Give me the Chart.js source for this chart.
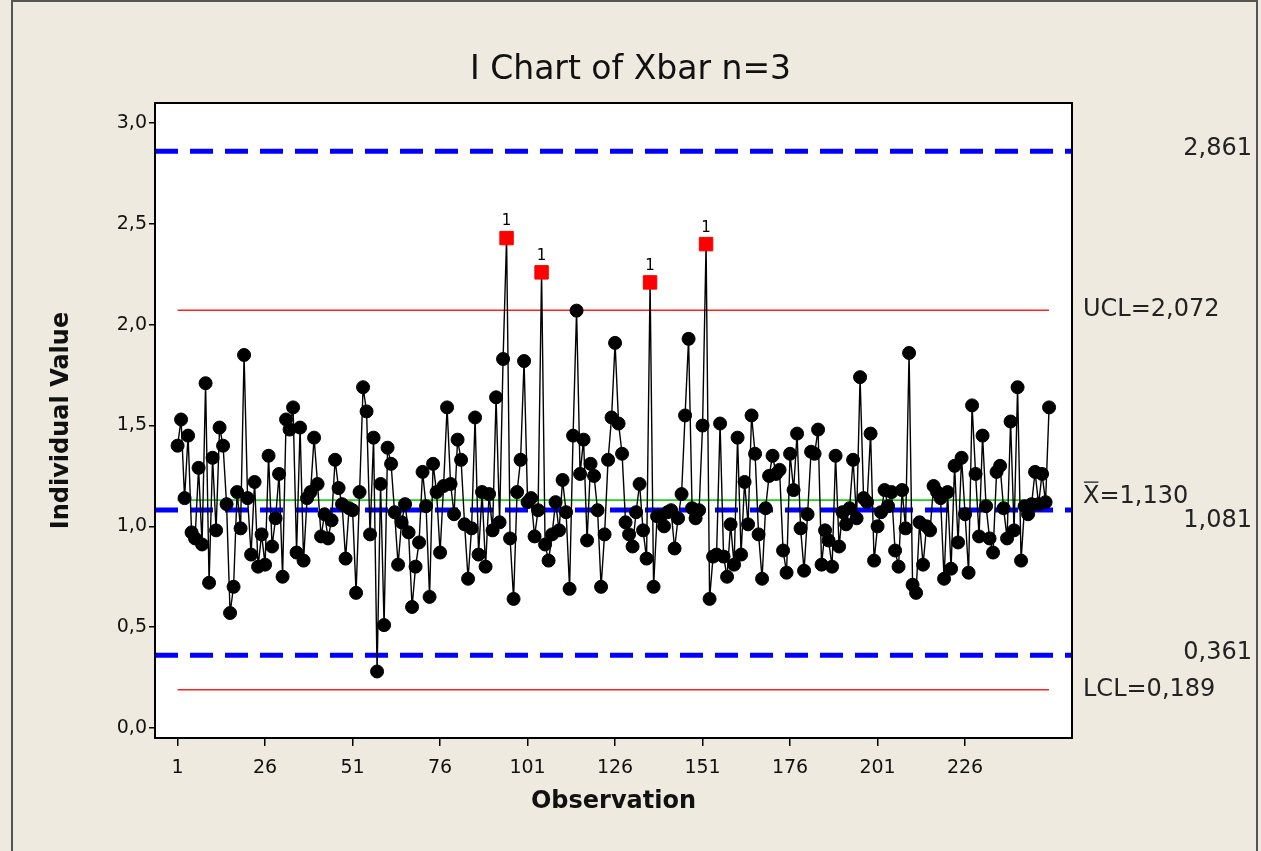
<!DOCTYPE html>
<html>
<head>
<meta charset="utf-8">
<script src="https://cdn.jsdelivr.net/npm/chart.js@4.4.0/dist/chart.umd.min.js"></script>
<style>
  html, body { margin: 0; padding: 0; background: #eeeae0; }
  #wrap { width: 1261px; height: 851px; }
</style>
</head>
<body>
<div id="wrap"><canvas id="ichart" width="1261" height="851"></canvas></div>
<script>
// Xbar values (n=3), one per subgroup
const xbarValues = [
  1.40, 1.53, 1.14, 1.45, 0.97, 0.94, 1.29, 0.91, 1.71, 0.72,
  1.34, 0.98, 1.49, 1.40, 1.11, 0.57, 0.70, 1.17, 0.99, 1.85,
  1.14, 0.86, 1.22, 0.80, 0.96, 0.81, 1.35, 0.90, 1.04, 1.26,
  0.75, 1.53, 1.48, 1.59, 0.87, 1.49, 0.83, 1.14, 1.17, 1.44,
  1.21, 0.95, 1.06, 0.94, 1.03, 1.33, 1.19, 1.11, 0.84, 1.09,
  1.08, 0.67, 1.17, 1.69, 1.57, 0.96, 1.44, 0.28, 1.21, 0.51,
  1.39, 1.31, 1.07, 0.81, 1.02, 1.11, 0.97, 0.60, 0.80, 0.92,
  1.27, 1.10, 0.65, 1.31, 1.17, 0.87, 1.20, 1.59, 1.21, 1.06,
  1.43, 1.33, 1.01, 0.74, 0.99, 1.54, 0.86, 1.17, 0.80, 1.16,
  0.98, 1.64, 1.02, 1.83, 2.43, 0.94, 0.64, 1.17, 1.33, 1.82,
  1.12, 1.14, 0.95, 1.08, 2.26, 0.91, 0.83, 0.96, 1.12, 0.98,
  1.23, 1.07, 0.69, 1.45, 2.07, 1.26, 1.43, 0.93, 1.31, 1.25,
  1.08, 0.70, 0.96, 1.33, 1.54, 1.91, 1.51, 1.36, 1.02, 0.96,
  0.90, 1.07, 1.21, 0.98, 0.84, 2.21, 0.70, 1.05, 1.05, 1.00,
  1.07, 1.08, 0.89, 1.04, 1.16, 1.55, 1.93, 1.09, 1.04, 1.08,
  1.50, 2.40, 0.64, 0.85, 0.86, 1.51, 0.85, 0.75, 1.01, 0.81,
  1.44, 0.86, 1.22, 1.01, 1.55, 1.36, 0.96, 0.74, 1.09, 1.25,
  1.35, 1.26, 1.28, 0.88, 0.77, 1.36, 1.18, 1.46, 0.99, 0.78,
  1.06, 1.37, 1.36, 1.48, 0.81, 0.98, 0.93, 0.80, 1.35, 0.90,
  1.07, 1.01, 1.09, 1.33, 1.04, 1.74, 1.14, 1.12, 1.46, 0.83,
  1.00, 1.07, 1.18, 1.10, 1.17, 0.88, 0.80, 1.18, 0.99, 1.86,
  0.71, 0.67, 1.02, 0.81, 1.00, 0.98, 1.20, 1.17, 1.14, 0.74,
  1.17, 0.79, 1.30, 0.92, 1.34, 1.06, 0.77, 1.60, 1.26, 0.95,
  1.45, 1.10, 0.94, 0.87, 1.27, 1.30, 1.09, 0.94, 1.52, 0.98,
  1.69, 0.83, 1.10, 1.06, 1.11, 1.27, 1.11, 1.26, 1.12, 1.59
];

// I chart limits
const uclValue = 2.072;
const centreValue = 1.130;
const lclValue = 0.189;

// limits from the Xbar chart, drawn dashed across the plot
const xbarLimits = [2.861, 1.081, 0.361];

const xTickValues = [1, 26, 51, 76, 101, 126, 151, 176, 201, 226];
const yTickValues = [0, 0.5, 1, 1.5, 2, 2.5, 3];

const X_MIN = -5.45, X_MAX = 256.55;
const Y_MIN = -0.05, Y_MAX = 3.1;
const FONT = "'DejaVu Sans', Verdana, sans-serif";

const n = xbarValues.length;
const points = xbarValues.map((v, i) => ({ x: i + 1, y: v }));
const isOut = xbarValues.map(v => v > uclValue || v < lclValue);

const comma = (v, d) => v.toFixed(d).replace(".", ",");

function limitLine(y, color, width, from, to, dash) {
  return {
    data: [{ x: from, y: y }, { x: to, y: y }],
    borderColor: color,
    borderWidth: width,
    borderDash: dash || [],
    pointRadius: 0,
    fill: false,
    order: 2,
  };
}

const datasets = [
  {
    label: "Xbar",
    data: points,
    borderColor: "#000000",
    borderWidth: 1.4,
    pointStyle: isOut.map(o => (o ? "rect" : "circle")),
    pointRadius: isOut.map(o => (o ? 9.5 : 6.5)),
    pointBackgroundColor: isOut.map(o => (o ? "#ff0000" : "#000000")),
    pointBorderColor: isOut.map(o => (o ? "#ff0000" : "#000000")),
    pointBorderWidth: 1,
    tension: 0,
    order: 0,
  },
  limitLine(uclValue, "#ff2020", 1.6, 1, n),
  limitLine(lclValue, "#ff2020", 1.6, 1, n),
  limitLine(centreValue, "#22cc22", 1.6, 1, n),
];
xbarLimits.forEach(v => datasets.push(limitLine(v, "#0000ff", 5, X_MIN, X_MAX, [23, 12])));

// white plot area, beige page, outer frame, labels
const backdrop = {
  id: "backdrop",
  beforeDraw(chart) {
    const { ctx, chartArea: a } = chart;
    ctx.save();
    ctx.fillStyle = "#eeeae0";
    ctx.fillRect(0, 0, chart.width, chart.height);
    ctx.strokeStyle = "#555555";
    ctx.lineWidth = 2;
    ctx.strokeRect(12, 1, chart.width - 16, chart.height + 10);
    ctx.fillStyle = "#ffffff";
    ctx.fillRect(a.left, a.top, a.right - a.left, a.bottom - a.top);
    ctx.restore();
  },
  afterDatasetsDraw(chart) {
    const { ctx, chartArea: a, scales } = chart;
    const y = scales.y, x = scales.x;
    ctx.save();
    ctx.strokeStyle = "#000000";
    ctx.lineWidth = 2;
    ctx.strokeRect(a.left, a.top, a.right - a.left, a.bottom - a.top);

    // "1" above points failing test 1
    ctx.fillStyle = "#000000";
    ctx.font = "15px " + FONT;
    ctx.textAlign = "center";
    ctx.textBaseline = "bottom";
    xbarValues.forEach((v, i) => {
      if (isOut[i]) ctx.fillText("1", x.getPixelForValue(i + 1), y.getPixelForValue(v) - 9);
    });

    // limit labels at the right
    ctx.font = "24px " + FONT;
    ctx.fillStyle = "#222222";
    ctx.textBaseline = "middle";
    const lx = a.right + 11;
    ctx.textAlign = "left";
    ctx.fillText("UCL=" + comma(uclValue, 3), lx, y.getPixelForValue(uclValue));
    ctx.fillText("LCL=" + comma(lclValue, 3), lx, y.getPixelForValue(lclValue));
    const cy = y.getPixelForValue(centreValue) - 3;
    ctx.fillText("X=" + comma(centreValue, 3), lx, cy);
    const xw = ctx.measureText("X").width;
    ctx.lineWidth = 1.3;
    ctx.strokeStyle = "#222222";
    ctx.beginPath();
    ctx.moveTo(lx + 1, cy - 15);
    ctx.lineTo(lx + xw - 1, cy - 15);
    ctx.stroke();
    ctx.textAlign = "right";
    xbarLimits.forEach(v => {
      let py = y.getPixelForValue(v) - 2;
      if (Math.abs(py - y.getPixelForValue(centreValue)) < 20) py += 13;
      ctx.fillText(comma(v, 3), chart.width - 9, py);
    });
    ctx.restore();
  },
};

new Chart(document.getElementById("ichart"), {
  type: "line",
  data: { datasets: datasets },
  options: {
    responsive: false,
    devicePixelRatio: 1,
    animation: false,
    layout: { padding: 0 },
    plugins: {
      legend: { display: false },
      tooltip: { enabled: false },
      title: {
        display: true,
        text: "I Chart of Xbar n=3",
        color: "#111111",
        font: { family: FONT, size: 33, weight: "normal" },
        padding: { top: 50.2, bottom: 13.2 },
      },
    },
    scales: {
      x: {
        type: "linear",
        min: X_MIN,
        max: X_MAX,
        afterFit(scale) { scale.height = 113; },
        afterBuildTicks(scale) { scale.ticks = xTickValues.map(v => ({ value: v })); },
        grid: { display: true, drawOnChartArea: false, tickLength: 8, color: "#000000", lineWidth: 1.5 },
        border: { display: true, color: "#000000", width: 2 },
        ticks: {
          color: "#111111",
          font: { family: FONT, size: 19 },
          padding: 11,
          maxRotation: 0,
          autoSkip: false,
          callback: v => String(v),
        },
        title: {
          display: true,
          text: "Observation",
          color: "#111111",
          font: { family: FONT, size: 24, weight: "bold" },
          padding: { top: 0, bottom: 34.6 },
        },
      },
      y: {
        type: "linear",
        min: Y_MIN,
        max: Y_MAX,
        afterFit(scale) { scale.width = 155; },
        afterBuildTicks(scale) { scale.ticks = yTickValues.map(v => ({ value: v })); },
        grid: { display: true, drawOnChartArea: false, tickLength: 6, color: "#000000", lineWidth: 1.5 },
        border: { display: true, color: "#000000", width: 2 },
        ticks: {
          color: "#111111",
          font: { family: FONT, size: 19 },
          padding: 2,
          callback: v => comma(v, 1),
        },
        title: {
          display: true,
          text: "Individual Value",
          color: "#111111",
          font: { family: FONT, size: 24, weight: "bold" },
          padding: { top: 47.6, bottom: 0 },
        },
      },
      // empty strip on the right that holds the limit labels
      yRight: {
        type: "linear",
        position: "right",
        afterFit(scale) { scale.width = 189; },
        grid: { display: false },
        border: { display: false },
        ticks: { display: false },
      },
    },
  },
  plugins: [backdrop],
});
</script>
</body>
</html>
